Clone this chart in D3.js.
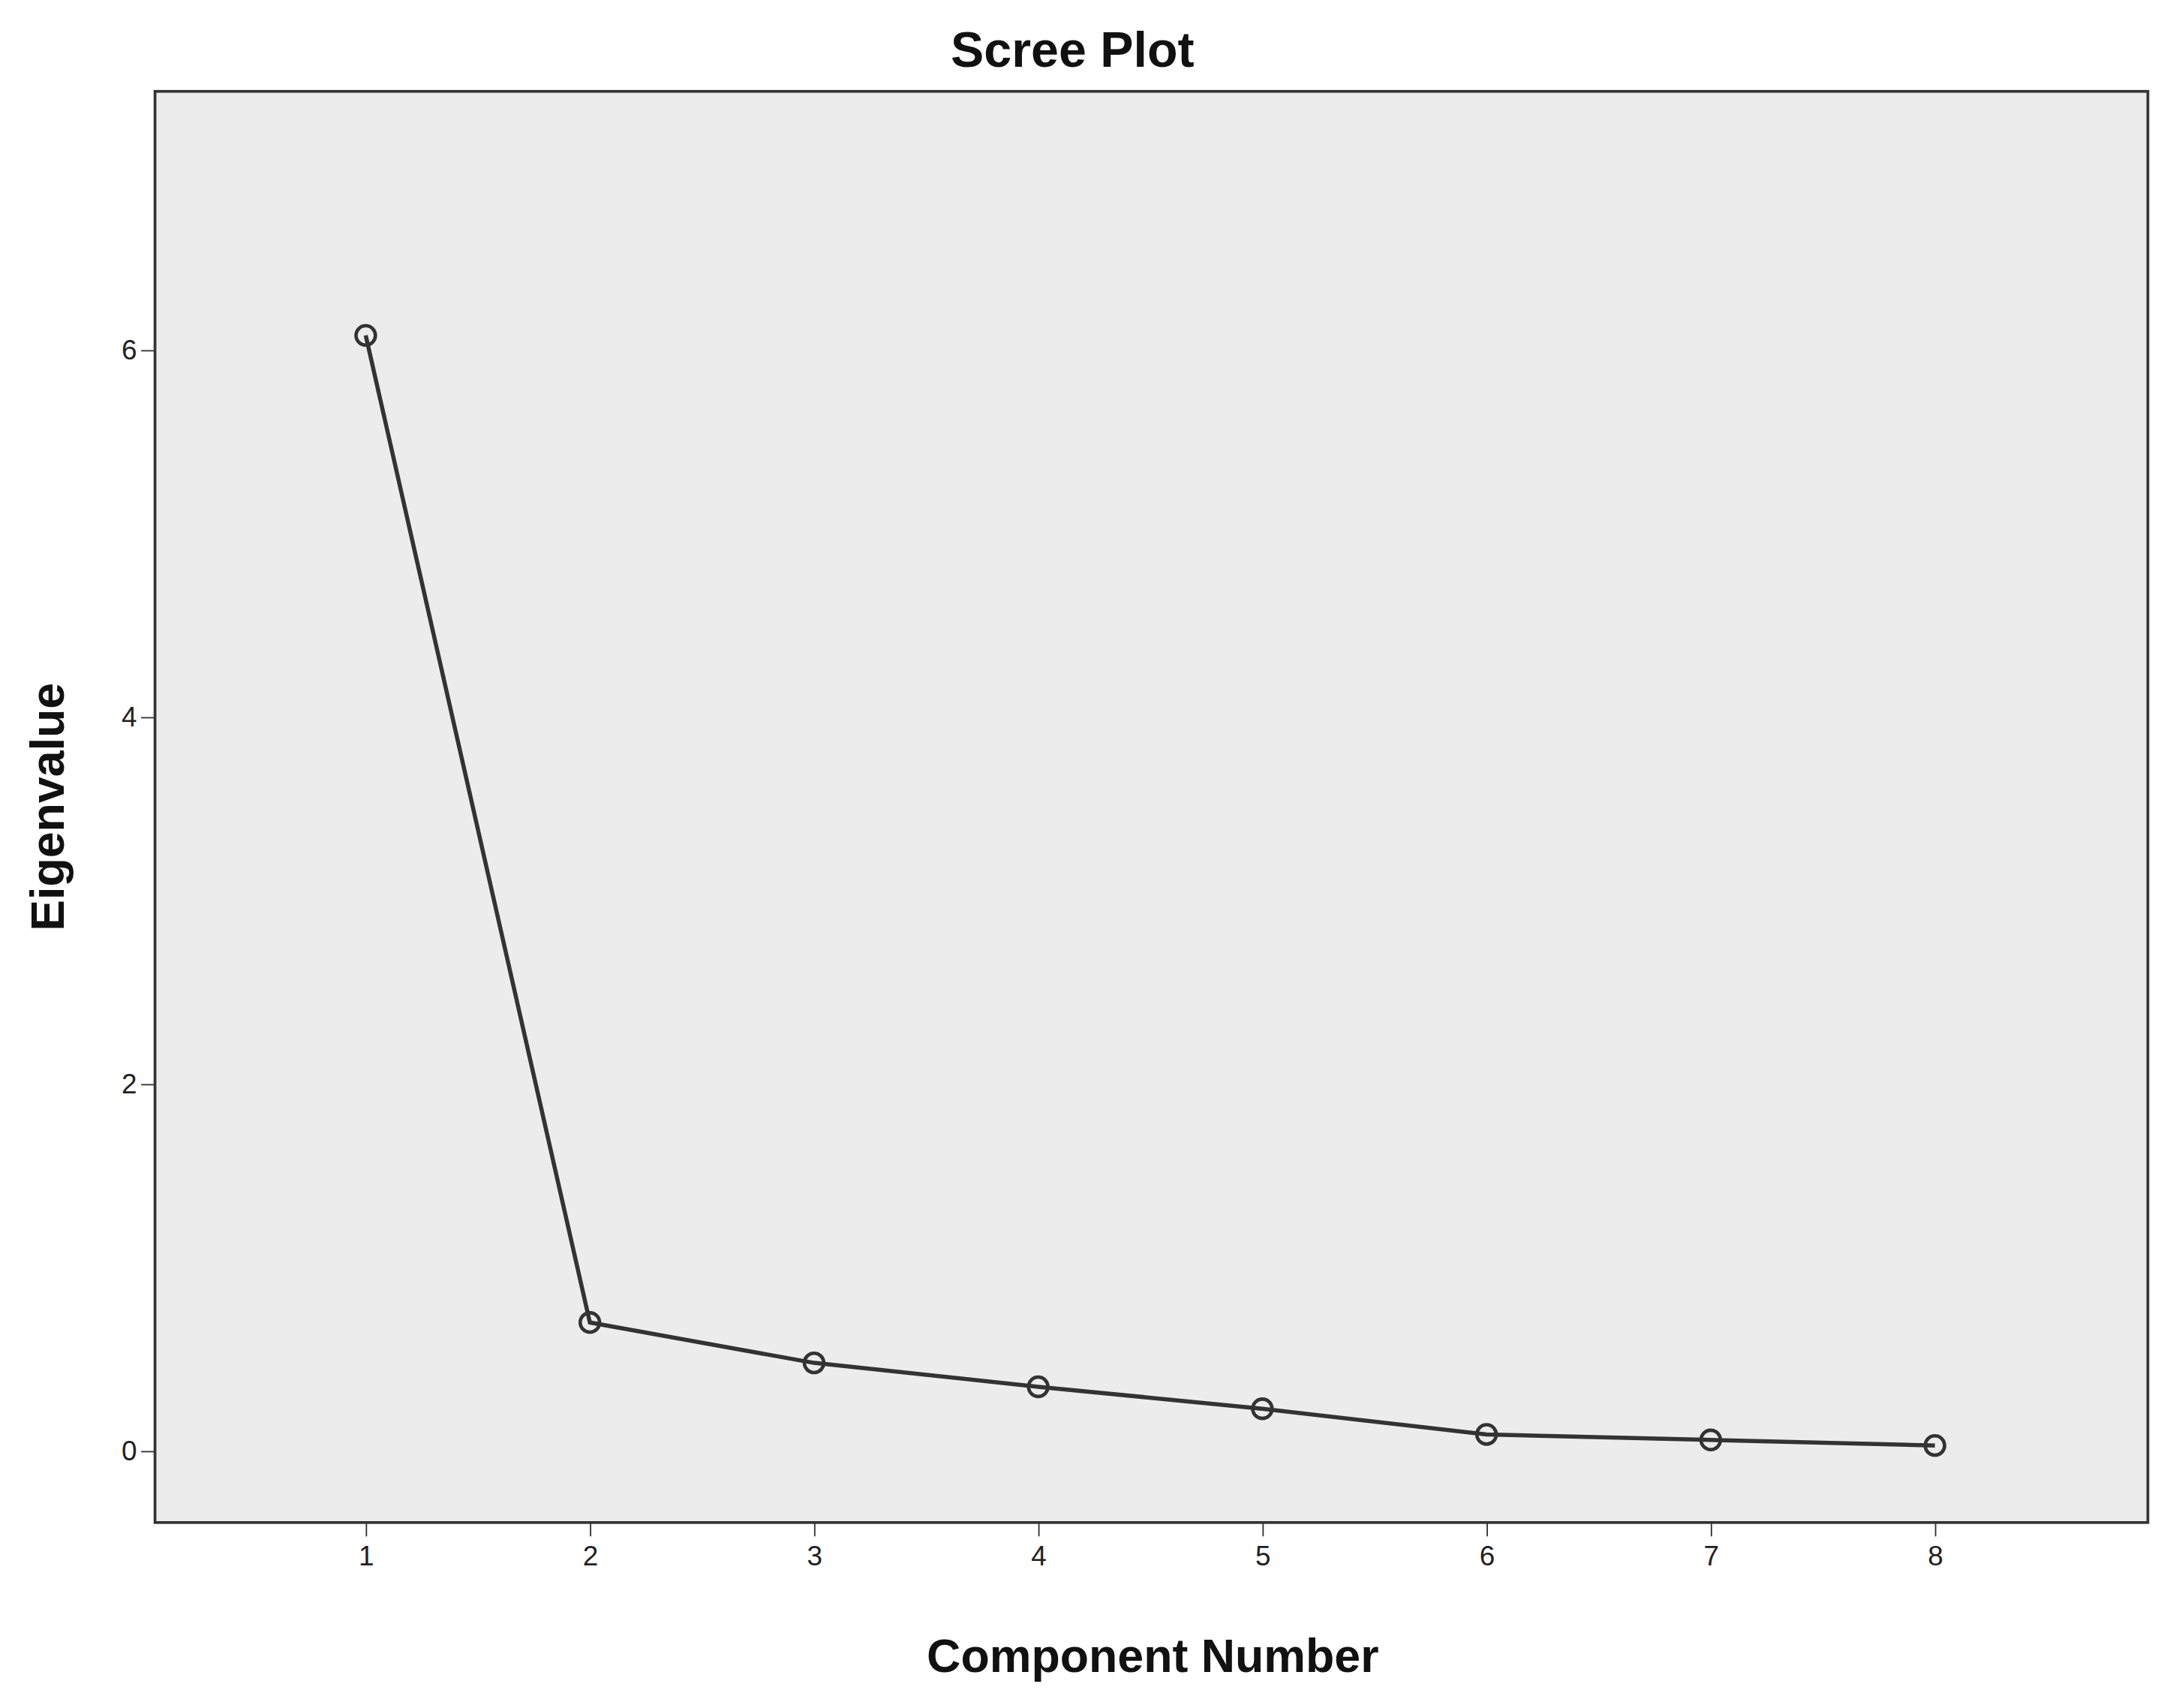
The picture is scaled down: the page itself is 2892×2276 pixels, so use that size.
<!DOCTYPE html>
<html>
<head>
<meta charset="utf-8">
<script src="https://cdn.jsdelivr.net/npm/d3@7"></script>
<style>
  body { margin: 0; background: #fff; }
  text { font-family: "Liberation Sans", Arial, sans-serif; }
</style>
</head>
<body>
<svg id="chart"></svg>
<script>
const components = [1, 2, 3, 4, 5, 6, 7, 8];
const eigenvalues = [6.08, 0.70, 0.48, 0.35, 0.23, 0.09, 0.06, 0.03];
const yTicks = [0, 2, 4, 6];

// drawn in a 1568x1234 coordinate space, scaled up to the window
const W = 1568, H = 1234;
const margin = { top: 66, right: 16, bottom: 134, left: 112 };

const svg = d3.select('#chart')
  .attr('width', 2892).attr('height', 2276)
  .attr('viewBox', `0 0 ${W} ${H}`);

const x = d3.scaleLinear().domain([0.06, 8.95]).range([margin.left, W - margin.right]);
const y = d3.scaleLinear().domain([-0.39, 7.41]).range([H - margin.bottom, margin.top]);

// plot area
svg.append('rect')
  .attr('x', margin.left).attr('y', margin.top)
  .attr('width', W - margin.left - margin.right)
  .attr('height', H - margin.top - margin.bottom)
  .attr('fill', '#ececec').attr('stroke', '#333').attr('stroke-width', 2);

// axes
svg.append('g')
  .attr('transform', `translate(0,${H - margin.bottom})`)
  .call(d3.axisBottom(x).tickValues(components).tickSize(10).tickSizeOuter(0))
  .call(g => g.select('.domain').remove())
  .call(g => g.selectAll('line').attr('stroke', '#333'))
  .selectAll('text').style('font-size', '20px').attr('fill', '#222').attr('dy', '0.9em');

svg.append('g')
  .attr('transform', `translate(${margin.left},0)`)
  .call(d3.axisLeft(y).tickValues(yTicks).tickSize(10).tickSizeOuter(0))
  .call(g => g.select('.domain').remove())
  .call(g => g.selectAll('line').attr('stroke', '#333'))
  .selectAll('text').style('font-size', '20px').attr('fill', '#222');

// line + markers
const pts = components.map((c, i) => [c, eigenvalues[i]]);
svg.append('path')
  .datum(pts)
  .attr('fill', 'none').attr('stroke', '#333').attr('stroke-width', 3)
  .attr('d', d3.line().x(d => x(d[0])).y(d => y(d[1])));

svg.append('g').selectAll('circle')
  .data(pts).join('circle')
  .attr('cx', d => x(d[0])).attr('cy', d => y(d[1])).attr('r', 7)
  .attr('fill', 'none').attr('stroke', '#333').attr('stroke-width', 2.5);

// titles
svg.append('text').attr('x', 775).attr('y', 48).attr('text-anchor', 'middle')
  .style('font-size', '36px').style('font-weight', 'bold').attr('fill', '#111').text('Scree Plot');
svg.append('text').attr('x', 833).attr('y', 1208).attr('text-anchor', 'middle')
  .style('font-size', '34px').style('font-weight', 'bold').attr('fill', '#111').text('Component Number');
svg.append('text').attr('transform', 'translate(46,583) rotate(-90)').attr('text-anchor', 'middle')
  .style('font-size', '34px').style('font-weight', 'bold').attr('fill', '#111').text('Eigenvalue');
</script>
</body>
</html>
